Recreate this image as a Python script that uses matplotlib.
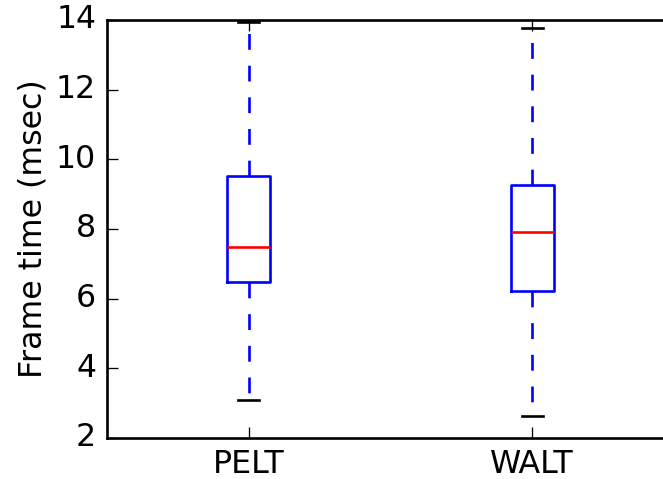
import matplotlib
matplotlib.use("Agg")
import matplotlib.pyplot as plt

plt.style.use("classic")

# Box statistics (msec)
labels = ["PELT", "WALT"]
whisker_low = [3.09, 2.64]
q1 = [6.49, 6.21]
median = [7.49, 7.91]
q3 = [9.51, 9.26]
whisker_high = [13.94, 13.78]

stats = []
for i, name in enumerate(labels):
    stats.append({
        "label": name,
        "whislo": whisker_low[i],
        "q1": q1[i],
        "med": median[i],
        "q3": q3[i],
        "whishi": whisker_high[i],
        "fliers": [],
    })

dpi = 190
fig = plt.figure(figsize=(663 / dpi, 479 / dpi), dpi=dpi)
fig.patch.set_facecolor("white")
ax = fig.add_axes([0.161, 0.0856, 0.8557, 0.8727])

ax.bxp(stats, positions=[1, 2])
ax.set_xlim(0.5, 2.5)
ax.set_ylim(2, 14)
ax.set_yticks([2, 4, 6, 8, 10, 12, 14])
ax.set_ylabel("Frame time (msec)", labelpad=3)

fig.savefig("out.png", dpi=dpi, facecolor="white")
